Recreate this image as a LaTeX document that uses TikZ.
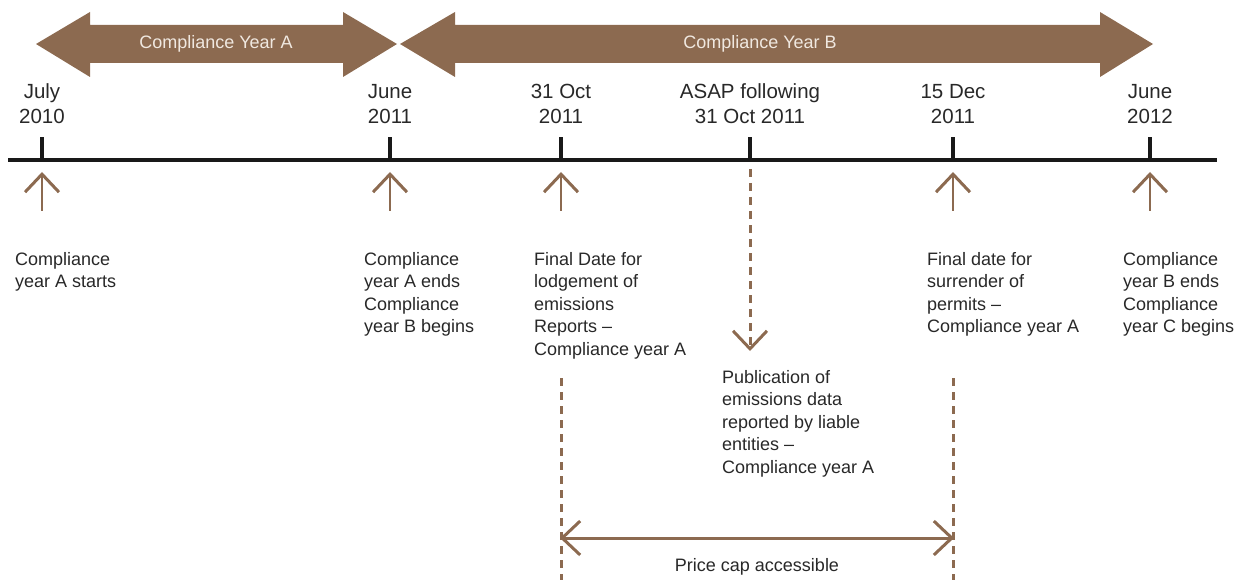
\documentclass[tikz,border=0pt]{standalone}
\usepackage{fontspec}
\setmainfont{Liberation Sans}
\usetikzlibrary{arrows.meta}
\definecolor{brn}{RGB}{140,106,80}
\definecolor{txt}{RGB}{40,40,40}
\definecolor{lbl}{RGB}{240,232,224}
\begin{document}
\begin{tikzpicture}[x=1pt,y=-1pt,
  chev/.tip={Straight Barb[length=18pt,width=34pt,line width=3pt]},
  datelbl/.style={anchor=north,align=center,inner sep=0pt,text=txt,font=\fontsize{20.5}{25}\selectfont},
  desc/.style={anchor=north west,align=left,inner sep=0pt,text=txt,font=\fontsize{18}{22.5}\selectfont},
  barlbl/.style={inner sep=0pt,text=lbl,font=\fontsize{18}{22}\selectfont},
  band/.style={fill=brn,draw=none},
  uparrow/.style={draw=brn,line width=2.8pt,-chev},
  dasharrow/.style={draw=brn,line width=3pt,dash pattern=on 8pt off 6pt,-chev},
  dashline/.style={draw=brn,line width=3pt,dash pattern=on 8pt off 6pt},
  spanarrow/.style={draw=brn,line width=3pt,chev-chev},
  tick/.style={draw=black!90,line width=3.5pt}]
\useasboundingbox (0,0) rectangle (1247,580);
% top bands
\path[band] (36,44) -- (90,12) -- (90,25) -- (343,25) -- (343,12) -- (397,44) -- (343,77) -- (343,63) -- (90,63) -- (90,77) -- cycle;
\path[band] (400,44) -- (455,12) -- (455,25) -- (1100,25) -- (1100,12) -- (1153,44) -- (1100,77) -- (1100,63) -- (455,63) -- (455,77) -- cycle;
\node[barlbl] (ya) at (216,44) {Compliance Year A};
\node[barlbl] (yb) at (760,44) {Compliance Year B};
% timeline
\coordinate (l0) at (8,160);
\coordinate (l1) at (1217,160);
\draw[black!90,line width=4pt] (l0) -- (l1);
\foreach \n/\x in {a/42,b/390,c/561,d/750,e/953,f/1150}{
  \coordinate (t\n) at (\x,160);
  \coordinate (h\n) at (\x,137);
  \draw[tick] (t\n) -- (h\n);
}
% date labels
\node[datelbl] (da) at (42,81) {\strut July\\\strut 2010};
\node[datelbl] (db) at (390,81) {\strut June\\\strut 2011};
\node[datelbl] (dc) at (561,81) {\strut 31 Oct\\\strut 2011};
\node[datelbl] (dd) at (750,81) {\strut ASAP following\\\strut 31 Oct 2011};
\node[datelbl] (de) at (953,81) {\strut 15 Dec\\\strut 2011};
\node[datelbl] (df) at (1150,81) {\strut June\\\strut 2012};
% up arrows
\foreach \n/\x in {a/42,b/390,c/561,e/953,f/1150}{
  \coordinate (s\n) at (\x,211);
  \coordinate (u\n) at (\x,172);
  \draw[uparrow] (s\n) -- (u\n);
}
% dashed down arrow
\coordinate (sd) at (750,169);
\coordinate (ed) at (750,351);
\draw[dasharrow] (sd) -- (ed);
% descriptions
\node[desc] (ka) at (15,252) {Compliance\\year A starts};
\node[desc] (kb) at (364,252) {Compliance\\year A ends\\Compliance\\year B begins};
\node[desc] (kc) at (534,252) {Final Date for\\lodgement of\\emissions\\Reports --\\Compliance year A};
\node[desc] (kd) at (722,370) {Publication of\\emissions data\\reported by liable\\entities --\\Compliance year A};
\node[desc] (ke) at (927,252) {Final date for\\surrender of\\permits --\\Compliance year A};
\node[desc] (kf) at (1123,252) {Compliance\\year B ends\\Compliance\\year C begins};
% price cap
\coordinate (p1) at (561,378);
\coordinate (p2) at (561,582);
\coordinate (q1) at (953,378);
\coordinate (q2) at (953,582);
\draw[dashline] (p1) -- (p2);
\draw[dashline] (q1) -- (q2);
\coordinate (m1) at (560,538);
\coordinate (m2) at (954,538);
\draw[spanarrow] (m1) -- (m2);
\node[inner sep=0pt,text=txt,font=\fontsize{18}{22}\selectfont] (pc) at (757,567) {Price cap accessible};
\end{tikzpicture}
\end{document}
